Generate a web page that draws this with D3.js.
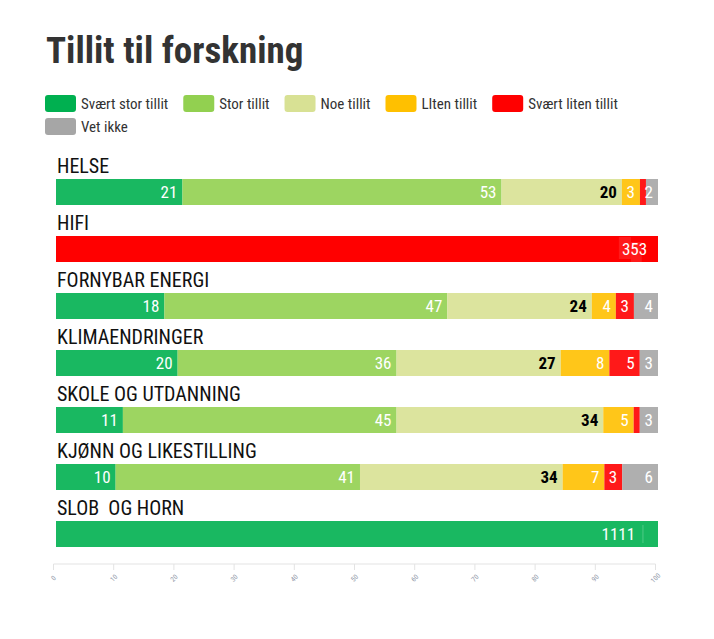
<!DOCTYPE html>
<html><head><meta charset="utf-8">
<script src="https://cdn.jsdelivr.net/npm/d3@7"></script>
<style>body{margin:0;background:#fff}</style>
</head><body>
<svg id="chart" width="714" height="639"></svg>
<script>
// ---- data ----
const categories = ["HELSE","HIFI","FORNYBAR ENERGI","KLIMAENDRINGER","SKOLE OG UTDANNING","KJØNN OG LIKESTILLING","SLOB  OG HORN"];
const seriesNames = ["Svært stor tillit","Stor tillit","Noe tillit","LIten tillit","Svært liten tillit","Vet ikke"];
const svaertStor  = [21,   0, 18, 20, 11, 10, 100];
const stor        = [53,   0, 47, 36, 45, 41,   0];
const noe         = [20,   0, 24, 27, 34, 34,   0];
const liten       = [ 3,   0,  4,  8,  5,  7,   0];
const svaertLiten = [ 1, 100,  3,  5,  1,  3,   0];
const vetIkke     = [ 2,   0,  4,  3,  3,  6,   0];
// labels shown on the two bars whose segments collapse into one colour
const collapsedLabels = {"HIFI":"353","SLOB  OG HORN":"1111"};
const xTicks = [0,10,20,30,40,50,60,70,80,90,100];
const colors = ["#00b050","#92d050","#d8e194","#ffc000","#ff0000","#a6a6a6"];
const labelColors = ["#fff","#fff","#000","#fff","#fff","#fff"];

const cols = [svaertStor,stor,noe,liten,svaertLiten,vetIkke];
const rows = categories.map((c,i)=>{const o={cat:c}; seriesNames.forEach((s,j)=>o[s]=cols[j][i]); return o;});

const svg = d3.select("#chart");
const FONT = '"Roboto Condensed", Roboto, sans-serif';

// title
svg.append("text").attr("x",46).attr("y",63)
  .style("font-family",FONT).style("font-weight","700").style("font-size","37px")
  .style("fill","#333").text("Tillit til forskning");

// legend
const leg = svg.append("g");
let lx = 45, ly = 95;
seriesNames.forEach((s,i)=>{
  const g = leg.append("g");
  const t = g.append("text").attr("x",36).attr("y",14)
    .style("font-family",FONT).style("font-size","15px").style("fill","#333").text(s);
  const w = 36 + t.node().getComputedTextLength();
  if (lx + w > 640) { lx = 45; ly += 23; }
  g.attr("transform",`translate(${lx},${ly})`);
  g.insert("rect","text").attr("width",31).attr("height",17).attr("rx",3).attr("fill",colors[i]);
  lx += w + 15;
});

// scales
const x = d3.scaleLinear().domain([0,100]).range([56,658]);
const xAxisScale = d3.scaleLinear().domain([0,100]).range([53.5,655.5]);
const y = d3.scaleBand().domain(categories).range([179,179+57*categories.length]);
const barH = 26;

const stack = d3.stack().keys(seriesNames).offset(d3.stackOffsetExpand);
const series = stack(rows);

// row labels
svg.append("g").selectAll("text").data(categories).join("text")
  .attr("x",57).attr("y",d=>y(d)-6)
  .attr("xml:space","preserve").style("white-space","pre")
  .style("font-family",FONT).style("font-size","20px").style("fill","#111")
  .text(d=>d);

// bars
const barsG = svg.append("g");
const gs = barsG.selectAll("g").data(series).join("g");
gs.each(function(ser,j){
  const g = d3.select(this);
  ser.forEach(d=>{
    const w = x(d[1]*100) - x(d[0]*100);
    if (w <= 0) return;
    const cat = d.data.cat;
    const full = collapsedLabels[cat] !== undefined;
    g.append("rect")
      .attr("x",x(d[0]*100)).attr("y",y(cat)).attr("width",w).attr("height",barH)
      .attr("fill",colors[j]).attr("fill-opacity", cat==="HIFI"?1:0.9);
    if (!full && w > 10) {
      g.append("text")
        .attr("x",x(d[1]*100)-5).attr("y",y(cat)+barH/2+6)
        .attr("text-anchor","end")
        .style("font-family",FONT).style("font-size","17px")
        .style("font-weight", j===2?"700":"400")
        .style("fill",labelColors[j]).text(d.data[seriesNames[j]]);
    }
  });
});

// labels of collapsed bars
const collG = svg.append("g");
Object.entries(collapsedLabels).forEach(([cat,lab])=>{
  const endX = cat==="HIFI" ? x(98.2) : x(96.2);
  if (cat==="HIFI") {
    collG.append("rect").attr("x",x(93.5)).attr("y",y(cat)+1).attr("width",x(95.5)-x(93.5)).attr("height",barH-4).attr("fill","#ff1a1a");
    collG.append("rect").attr("x",x(95.5)).attr("y",y(cat)+6).attr("width",x(97.3)-x(95.5)).attr("height",barH-6).attr("fill","#ff1a1a");
  } else {
    collG.append("line").attr("x1",x(97.5)).attr("x2",x(97.5)).attr("y1",y(cat)+4).attr("y2",y(cat)+barH-4)
      .attr("stroke","#5ccf8f").attr("stroke-width",0.8);
  }
  collG.append("text").attr("x",endX).attr("y",y(cat)+barH/2+6)
    .attr("text-anchor","end")
    .style("font-family",FONT).style("font-size","17px").style("fill","#fff").text(lab);
});

// axis
const ax = svg.append("g").attr("transform","translate(0,564)");
ax.append("line").attr("x1",xAxisScale(0)).attr("x2",xAxisScale(100)).attr("stroke","#e3e3e3").attr("stroke-width",1);
ax.selectAll("line.tick").data(xTicks).join("line").attr("class","tick")
  .attr("x1",d=>xAxisScale(d)).attr("x2",d=>xAxisScale(d)).attr("y1",0).attr("y2",6)
  .attr("stroke","#e3e3e3");
ax.selectAll("text.tl").data(xTicks).join("text").attr("class","tl")
  .attr("transform",d=>`translate(${xAxisScale(d)},14) rotate(-45)`)
  .attr("text-anchor","middle").attr("dy","0.35em")
  .style("font-family",FONT).style("font-size","7px").style("fill","#8f97a8")
  .text(d=>d);
</script>
</body></html>
